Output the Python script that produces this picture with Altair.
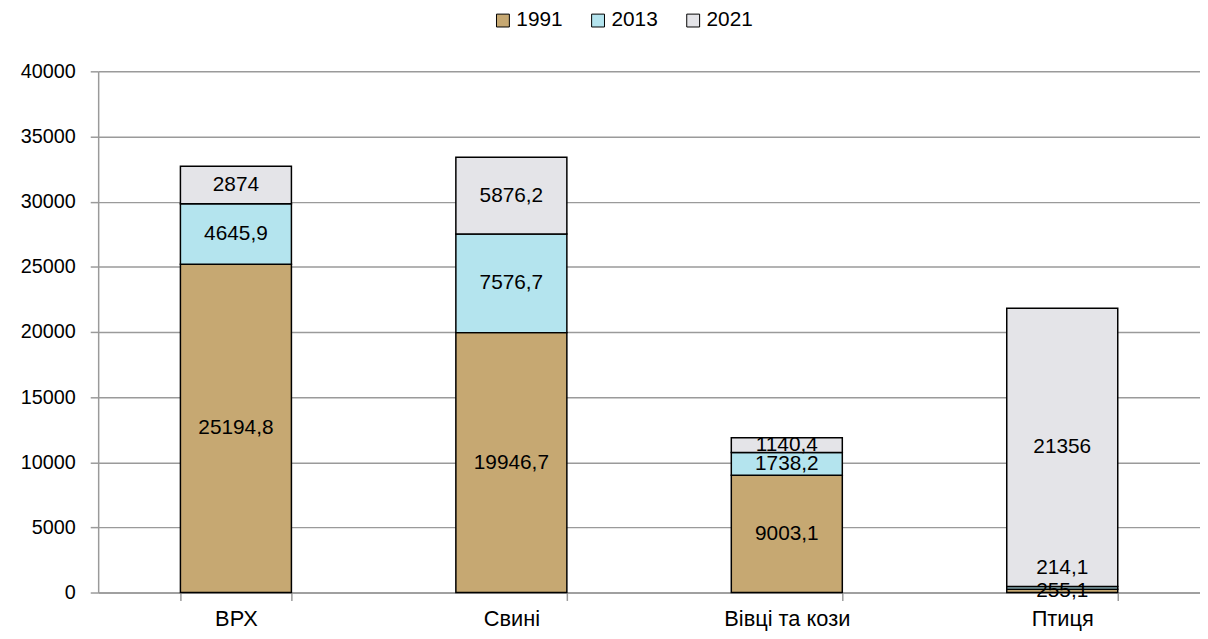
import altair as alt
import pandas as pd

categories = ["ВРХ", "Свині", "Вівці та кози", "Птиця"]
years = ["1991", "2013", "2021"]
v1991 = [25194.8, 19946.7, 9003.1, 255.1]
v2013 = [4645.9, 7576.7, 1738.2, 214.1]
v2021 = [2874, 5876.2, 1140.4, 21356]
colors = ["#c6a872", "#b4e4ee", "#e4e4e8"]


def fmt(v):
    if float(v).is_integer():
        return str(int(v))
    return str(v).replace(".", ",")


rows = []
for yi, (yr, vals) in enumerate(zip(years, [v1991, v2013, v2021])):
    for c, v in zip(categories, vals):
        rows.append({"cat": c, "year": yr, "value": v, "label": fmt(v), "ord": yi})
df = pd.DataFrame(rows)

FONT = "Liberation Sans"

xenc = alt.X(
    "cat:N",
    sort=categories,
    scale=alt.Scale(paddingInner=0.597, paddingOuter=0.2986),
    axis=alt.Axis(
        title=None, labelAngle=0, tickBand="extent", labelFontSize=22, labelFont=FONT,
        labelColor="black", tickSize=8, tickColor="#9a9a9a", domainColor="#9a9a9a",
        tickWidth=1.5, domainWidth=1.5, labelPadding=8, grid=False,
    ),
)

base = alt.Chart(df)

bars = base.mark_bar(stroke="black", strokeWidth=1.5).encode(
    x=xenc,
    y=alt.Y(
        "value:Q",
        stack="zero",
        scale=alt.Scale(domain=[0, 40000]),
        axis=alt.Axis(
            title=None, values=list(range(0, 40001, 5000)), format="d", labelFontSize=20,
            labelFont=FONT, labelColor="black", tickSize=8, tickColor="#9a9a9a",
            domainColor="#9a9a9a", tickWidth=1.5, domainWidth=1.5, gridColor="#9a9a9a",
            gridWidth=1.5, labelPadding=15,
        ),
    ),
    color=alt.Color(
        "year:N",
        scale=alt.Scale(domain=years, range=colors),
        legend=alt.Legend(
            title=None, orient="none", direction="horizontal", legendX=398, legendY=-62,
            symbolType="square", symbolSize=169, symbolStrokeColor="black", symbolStrokeWidth=1,
            labelFontSize=21, labelFont=FONT, labelColor="black", columnPadding=25, labelOffset=3,
        ),
    ),
    order=alt.Order("ord:Q"),
)

stacked = base.transform_stack(
    stack="value", groupby=["cat"], as_=["y0", "y1"], sort=[alt.SortField("ord")]
).transform_calculate(mid="(datum.y0 + datum.y1) / 2")

special = "datum.cat == 'Птиця' && datum.year == '2013'"

labels = stacked.transform_filter("!(" + special + ")").mark_text(
    fontSize=21, font=FONT, color="black"
).encode(x=alt.X("cat:N", sort=categories), y=alt.Y("mid:Q"), text="label:N")

labels2 = stacked.transform_filter(special).mark_text(
    fontSize=21, font=FONT, color="black", dy=-20
).encode(x=alt.X("cat:N", sort=categories), y=alt.Y("mid:Q"), text="label:N")

chart = (
    alt.layer(bars, labels, labels2)
    .properties(
        width=1112,
        height=526,
        autosize=alt.AutoSizeParams(type="none"),
        padding={"left": 91, "top": 61, "right": 0, "bottom": 45},
    )
    .configure_view(strokeWidth=0)
)

chart.save("out.html", embed_options={"renderer": "svg", "actions": False})
